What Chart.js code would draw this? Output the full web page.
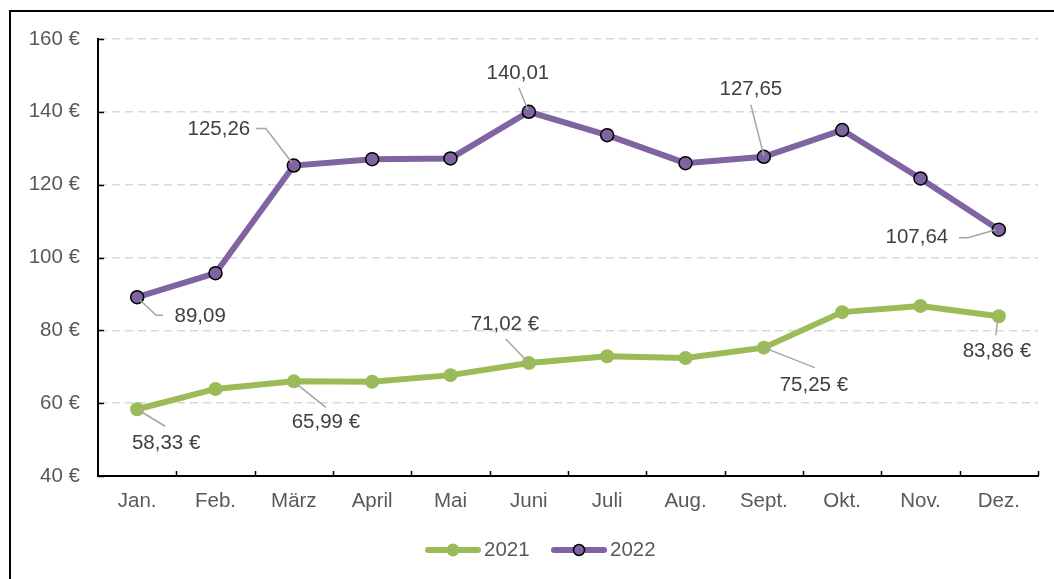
<!DOCTYPE html>
<html>
<head>
<meta charset="utf-8">
<script src="https://cdn.jsdelivr.net/npm/chart.js@4"></script>
<style>
  html, body { margin: 0; padding: 0; width: 1054px; height: 579px; overflow: hidden; background: #fff; }
  #frame { position: absolute; left: 9px; top: 10px; width: 1100px; height: 700px; border: 2px solid #000; box-sizing: border-box; }
  #c { position: absolute; left: 0; top: 0; }
</style>
</head>
<body>
<div id="frame"></div>
<canvas id="c" width="1054" height="579"></canvas>
<script>
const categories = ['Jan.', 'Feb.', 'März', 'April', 'Mai', 'Juni', 'Juli', 'Aug.', 'Sept.', 'Okt.', 'Nov.', 'Dez.'];
const values2021 = [58.33, 63.9, 65.99, 65.9, 67.7, 71.02, 72.9, 72.4, 75.25, 85.0, 86.7, 83.86];
const values2022 = [89.09, 95.7, 125.26, 127.0, 127.2, 140.01, 133.6, 125.9, 127.65, 135.0, 121.7, 107.64];
const seriesNames = ['2021', '2022'];
const yTicks = [40, 60, 80, 100, 120, 140, 160];

const GREEN = '#9bbb59';
const PURPLE = '#8064a2';
const FONT = '"Liberation Sans", Arial, sans-serif';
const FSIZE = 20.5;

// label placement (styling): dataset, index, text offset from point, leader path offsets
const labelStyles = [
  { ds: 1, i: 0, suffix: '', tx: 63, ty: 19, path: [[3, 3], [19, 18], [26, 18]] },
  { ds: 1, i: 2, suffix: '', tx: -75, ty: -36, path: [[-38, -37], [-28, -37], [-2, -3]] },
  { ds: 1, i: 5, suffix: '', tx: -11, ty: -38, path: [[-10, -24], [-1, -2]] },
  { ds: 1, i: 8, suffix: '', tx: -13, ty: -67, path: [[-13, -52], [0, -1]] },
  { ds: 1, i: 11, suffix: '', tx: -82, ty: 8, path: [[-40, 8], [-31, 8], [-3, 0]] },
  { ds: 0, i: 0, suffix: ' €', tx: 29, ty: 34, path: [[0, 0], [28, 17]] },
  { ds: 0, i: 2, suffix: ' €', tx: 32, ty: 41, path: [[2, 2], [32, 26]] },
  { ds: 0, i: 5, suffix: ' €', tx: -24, ty: -39, path: [[-23, -24], [-1, -1]] },
  { ds: 0, i: 8, suffix: ' €', tx: 50, ty: 38, path: [[0, 0], [51, 20]] },
  { ds: 0, i: 11, suffix: ' €', tx: -2, ty: 35, path: [[-1, 2], [-3, 19]] }
];

function fmt(v) { return v.toFixed(2).replace('.', ','); }

const decorPlugin = {
  id: 'decor',
  afterDatasetsDraw(chart) {
    const ctx = chart.ctx;
    const area = chart.chartArea;
    const ys = chart.scales.y;
    ctx.save();
    // inner tick marks on axes
    ctx.strokeStyle = '#000';
    ctx.lineWidth = 1.5;
    const n = categories.length;
    const cw = (area.right - area.left) / n;
    for (let k = 1; k <= n; k++) {
      const x = Math.round(area.left + k * cw) + 0.5;
      ctx.beginPath(); ctx.moveTo(x, area.bottom); ctx.lineTo(x, area.bottom - 5); ctx.stroke();
    }
    yTicks.forEach(v => {
      const y = Math.round(ys.getPixelForValue(v)) + 0.5;
      ctx.beginPath(); ctx.moveTo(area.left, y); ctx.lineTo(area.left + 6, y); ctx.stroke();
    });
    // data labels with leader lines
    ctx.font = FSIZE + 'px ' + FONT;
    ctx.textAlign = 'center';
    ctx.textBaseline = 'middle';
    labelStyles.forEach(l => {
      const meta = chart.getDatasetMeta(l.ds);
      const pt = meta.data[l.i];
      const v = chart.data.datasets[l.ds].data[l.i];
      ctx.strokeStyle = '#a6a6a6';
      ctx.lineWidth = 1.5;
      ctx.beginPath();
      l.path.forEach((p, j) => {
        const px = pt.x + p[0], py = pt.y + p[1];
        if (j === 0) ctx.moveTo(px, py); else ctx.lineTo(px, py);
      });
      ctx.stroke();
      ctx.fillStyle = '#404040';
      ctx.fillText(fmt(v) + l.suffix, pt.x + l.tx, pt.y + l.ty);
    });
    // legend
    const legendY = 550;
    const items = [
      { name: seriesNames[0], color: GREEN, border: GREEN, bw: 0, x: 425, r: 6.5 },
      { name: seriesNames[1], color: PURPLE, border: '#000', bw: 1.5, x: 551, r: 5.5 }
    ];
    items.forEach(it => {
      ctx.strokeStyle = it.color;
      ctx.lineWidth = 6;
      ctx.lineCap = 'round';
      ctx.beginPath(); ctx.moveTo(it.x + 3, legendY); ctx.lineTo(it.x + 53, legendY); ctx.stroke();
      ctx.beginPath(); ctx.arc(it.x + 28, legendY, it.r, 0, Math.PI * 2);
      ctx.fillStyle = it.color; ctx.fill();
      if (it.bw) { ctx.lineWidth = it.bw; ctx.strokeStyle = it.border; ctx.stroke(); }
      ctx.fillStyle = '#595959';
      ctx.textAlign = 'left';
      ctx.fillText(it.name, it.x + 59, legendY);
    });
    ctx.restore();
  }
};

new Chart(document.getElementById('c'), {
  type: 'line',
  data: {
    labels: categories,
    datasets: [
      {
        label: seriesNames[0], data: values2021,
        borderColor: GREEN, backgroundColor: GREEN, borderWidth: 6,
        pointRadius: 7, pointBackgroundColor: GREEN, pointBorderColor: GREEN, pointBorderWidth: 0,
        tension: 0
      },
      {
        label: seriesNames[1], data: values2022,
        borderColor: PURPLE, backgroundColor: PURPLE, borderWidth: 6,
        pointRadius: 6.5, pointBackgroundColor: PURPLE, pointBorderColor: '#000', pointBorderWidth: 1.5,
        tension: 0
      }
    ]
  },
  options: {
    responsive: false,
    animation: false,
    layout: { padding: { top: 39, right: 16, left: 0, bottom: 0 } },
    plugins: { legend: { display: false }, tooltip: { enabled: false } },
    scales: {
      x: {
        offset: true,
        grid: { display: false },
        border: { display: true, color: '#000', width: 2 },
        ticks: { color: '#595959', font: { size: FSIZE, family: FONT }, padding: 5, maxRotation: 0 },
        afterFit(s) { s.height = 103; }
      },
      y: {
        min: 40, max: 160,
        afterBuildTicks(s) { s.ticks = yTicks.map(v => ({ value: v })); },
        grid: { color: '#d9d9d9', lineWidth: 1.5, drawTicks: false },
        border: { display: true, color: '#000', width: 2, dash: [8, 5] },
        ticks: { color: '#595959', font: { size: FSIZE, family: FONT }, padding: 18, callback: v => v + ' €' },
        afterFit(s) { s.width = 98; }
      }
    }
  },
  plugins: [decorPlugin]
});
</script>
</body>
</html>
